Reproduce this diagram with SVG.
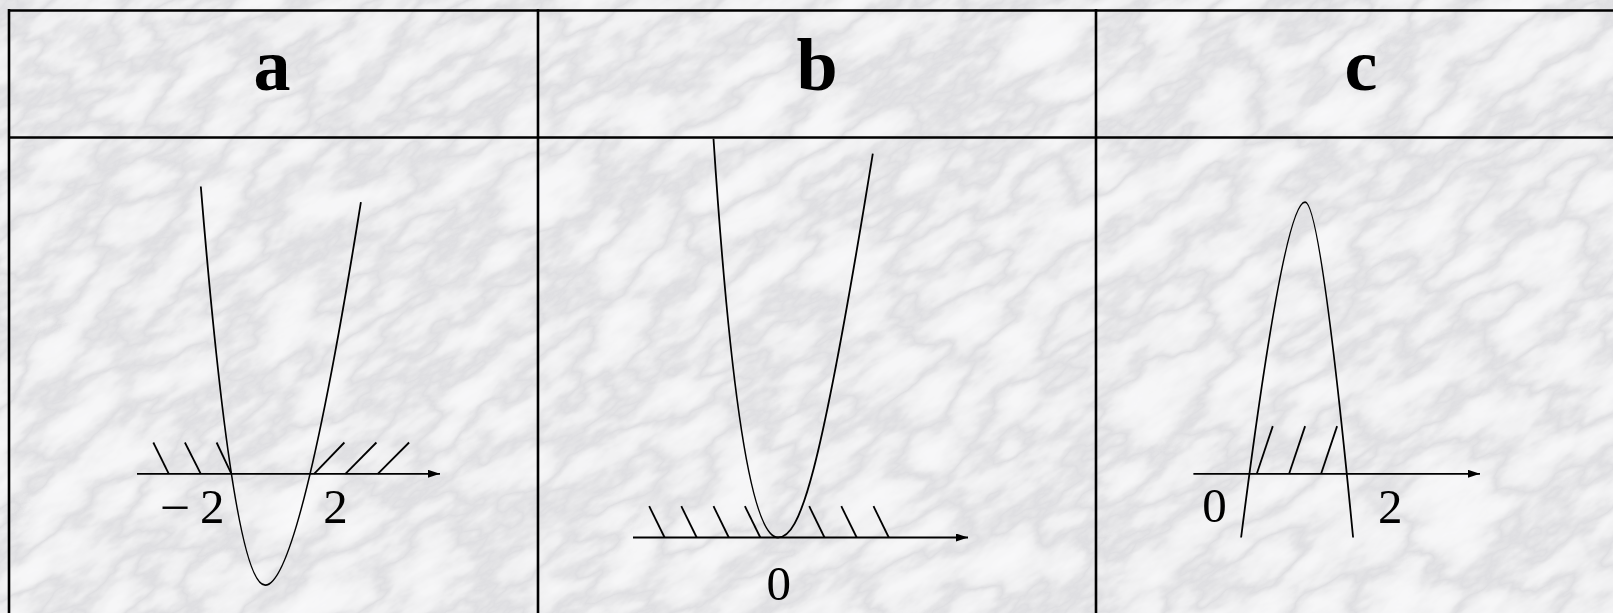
<svg xmlns="http://www.w3.org/2000/svg" width="1613" height="613" viewBox="0 0 1613 613">
<defs>
<style>
.grid{stroke:#000;stroke-width:2.6;fill:none}
.curve{stroke:#000;stroke-width:1.8;fill:none}
.axis{stroke:#000;stroke-width:1.8;fill:none;marker-end:url(#arrow)}
.hatch{stroke:#000;stroke-width:1.8;fill:none}
.head{font-family:"Liberation Serif","Times New Roman",serif;font-weight:bold;font-size:74px;text-anchor:middle;fill:#000}
.num{font-family:"Liberation Serif","Times New Roman",serif;font-size:49px;fill:#000}
</style>
<filter id="marble" x="0" y="0" width="100%" height="100%" filterUnits="objectBoundingBox">
<feTurbulence type="fractalNoise" baseFrequency="0.01 0.022" numOctaves="5" seed="11" result="n"/>
<feColorMatrix in="n" type="matrix" values="1 0 0 0 0  1 0 0 0 0  1 0 0 0 0  0 0 0 0 1" result="g"/>
<feComponentTransfer in="g">
<feFuncR type="table" tableValues="0.95 0.94 0.92 0.87 0.74 0.87 0.92 0.94 0.95"/>
<feFuncG type="table" tableValues="0.95 0.94 0.92 0.87 0.74 0.87 0.92 0.94 0.95"/>
<feFuncB type="table" tableValues="0.96 0.95 0.93 0.88 0.76 0.88 0.93 0.95 0.96"/>
</feComponentTransfer>
</filter>
<marker id="arrow" markerUnits="userSpaceOnUse" markerWidth="13" markerHeight="9" refX="12" refY="4" orient="auto">
<path d="M0,0 L12,4 L0,8 z" fill="#000"/>
</marker>
</defs>

<rect x="0" y="0" width="1613" height="613" fill="#e4e4e6"/>
<g transform="rotate(-32 806 306)">
<rect x="-300" y="-500" width="2213" height="1613" filter="url(#marble)"/>
</g>

<g id="table">
<line class="grid" x1="9" y1="10.5" x2="1613" y2="10.5"/>
<line class="grid" x1="9" y1="137.5" x2="1613" y2="137.5"/>
<line class="grid" x1="9" y1="9" x2="9" y2="613"/>
<line class="grid" x1="538" y1="9" x2="538" y2="613"/>
<line class="grid" x1="1096" y1="9" x2="1096" y2="613"/>
</g>

<g id="header-a"><text class="head" x="272" y="90">a</text></g>
<g id="header-b"><text class="head" x="817" y="90">b</text></g>
<g id="header-c"><text class="head" x="1361" y="90">c</text></g>

<g id="panel-a">
<path class="curve" d="M200.8,186.5 Q233.5,585.2 265.2,585.2 Q299.5,585.2 360.9,202.1"/>
<g class="hatch">
<line x1="153.3" y1="442.5" x2="168.8" y2="473.8"/>
<line x1="184.9" y1="442.5" x2="200.8" y2="473.8"/>
<line x1="216.6" y1="442.5" x2="231.4" y2="473.8"/>
<line x1="314.1" y1="473.8" x2="344.4" y2="442.5"/>
<line x1="345.4" y1="473.8" x2="376.4" y2="442.5"/>
<line x1="377.8" y1="473.8" x2="409.1" y2="442.5"/>
</g>
<text class="num" transform="translate(160 524) scale(1.1 1)" x="0" y="0">−</text>
<text class="num" x="212.3" y="523" text-anchor="middle">2</text>
<text class="num" x="335.5" y="523" text-anchor="middle">2</text>
</g>

<g id="panel-b">
<path class="curve" d="M713.5,138.8 Q739.6,537.5 778.1,537.5 C800,537.5 820,480 872.8,153.6"/>
<g class="hatch">
<line x1="649.2" y1="506.2" x2="664.6" y2="537.5"/>
<line x1="681.3" y1="506.2" x2="696.7" y2="537.5"/>
<line x1="713.5" y1="506.2" x2="728.8" y2="537.5"/>
<line x1="744.9" y1="506.2" x2="760.3" y2="537.5"/>
<line x1="809.2" y1="506.2" x2="824.5" y2="537.5"/>
<line x1="841.3" y1="506.2" x2="856.7" y2="537.5"/>
<line x1="873.5" y1="506.2" x2="888.8" y2="537.5"/>
</g>
<text class="num" x="778.8" y="600" text-anchor="middle">0</text>
</g>

<g id="panel-c">
<path class="curve" d="M1241.1,537.5 Q1283.8,202.1 1305.1,202.1 Q1320.6,202.1 1353.1,537.5"/>
<g class="hatch">
<line x1="1256.8" y1="473.8" x2="1272.8" y2="426.1"/>
<line x1="1289.1" y1="473.8" x2="1305.1" y2="426.1"/>
<line x1="1321.1" y1="473.8" x2="1337.1" y2="426.1"/>
</g>
<text class="num" x="1214.4" y="522" text-anchor="middle">0</text>
<text class="num" x="1390.2" y="523" text-anchor="middle">2</text>
</g>

<g id="connectors">
<line class="axis" x1="137" y1="473.8" x2="440" y2="473.8"/>
<line class="axis" x1="633" y1="537.5" x2="968" y2="537.5"/>
<line class="axis" x1="1193.4" y1="473.8" x2="1480" y2="473.8"/>
</g>
</svg>
